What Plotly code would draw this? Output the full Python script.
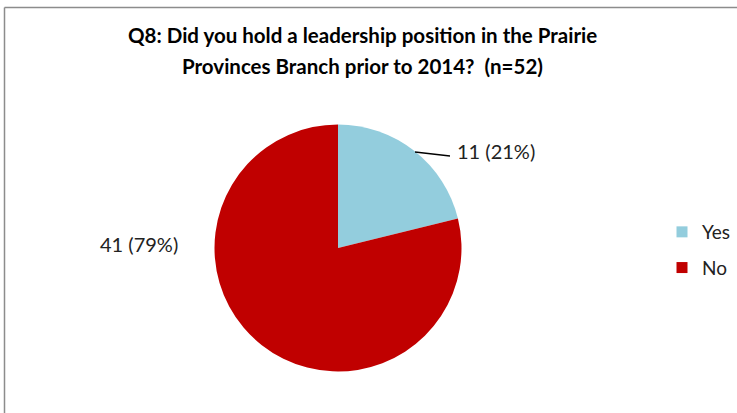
import plotly.graph_objects as go

categories = ["Yes", "No"]
counts = [11, 41]
colors = ["#93CDDD", "#C00000"]
title_lines = ["Q8: Did you hold a leadership position in the Prairie",
               "Provinces Branch prior to 2014?  (n=52)"]

W, H = 737, 413
FONT = "Lato, Carlito, Liberation Sans, sans-serif"
total = sum(counts)
labels_txt = [f"{c} ({round(100 * c / total)}%)" for c in counts]

def px(x):
    return x / W

def py(y):
    return 1 - y / H

cx, cy, r = 338, 248, 123.5

fig = go.Figure(go.Pie(
    labels=categories, values=counts, sort=False,
    direction="clockwise", rotation=0,
    marker=dict(colors=colors, line=dict(width=0)),
    textinfo="none", hoverinfo="label+value+percent",
    showlegend=False,
    domain=dict(x=[px(cx - r), px(cx + r)], y=[py(cy + r), py(cy - r)]),
))

# legend entries (dummy traces, so the spacing between entries can be set)
for cat, col in zip(categories, colors):
    fig.add_trace(go.Scatter(
        x=[None], y=[None], mode="markers", name=cat, legendgroup=cat,
        marker=dict(symbol="square", size=11, color=col),
        hoverinfo="skip",
    ))

def ann(text, x, y, xanchor, size, color):
    return dict(text=text, xref="paper", yref="paper", x=x, y=y,
                xanchor=xanchor, yanchor="middle", showarrow=False,
                font=dict(size=size, color=color, family=FONT))

annotations = [
    ann(f"<b>{title_lines[0]}</b>", px(362), py(35), "center", 20.5, "#000000"),
    ann(f"<b>{title_lines[1]}</b>", px(362), py(66), "center", 20.5, "#000000"),
    ann(labels_txt[0], px(455), py(151), "left", 20, "#222222"),
    ann(labels_txt[1], px(139), py(244), "center", 20, "#222222"),
]

shapes = [
    dict(type="line", xref="paper", yref="paper", x0=px(415), y0=py(152), x1=px(450), y1=py(156),
         line=dict(color="#000000", width=1.3)),
    dict(type="line", xref="paper", yref="paper", x0=px(4.5), y0=py(7.5), x1=1.0, y1=py(7.5),
         line=dict(color="#8C8C8C", width=1.5)),
    dict(type="line", xref="paper", yref="paper", x0=px(4.5), y0=py(7.5), x1=px(4.5), y1=0,
         line=dict(color="#8C8C8C", width=1.5)),
]

fig.update_layout(
    width=W, height=H, autosize=False,
    margin=dict(l=0, r=0, t=0, b=0),
    paper_bgcolor="white", plot_bgcolor="white",
    xaxis=dict(visible=False), yaxis=dict(visible=False),
    showlegend=True,
    legend=dict(x=px(662), y=py(213), xanchor="left", yanchor="top",
                traceorder="grouped", tracegroupgap=8, itemwidth=30,
                font=dict(size=19, color="#222222", family=FONT),
                bgcolor="rgba(0,0,0,0)"),
    annotations=annotations, shapes=shapes,
)

fig.write_html("out.html", config={"displayModeBar": False},
               post_script="document.body.style.margin='0';")
